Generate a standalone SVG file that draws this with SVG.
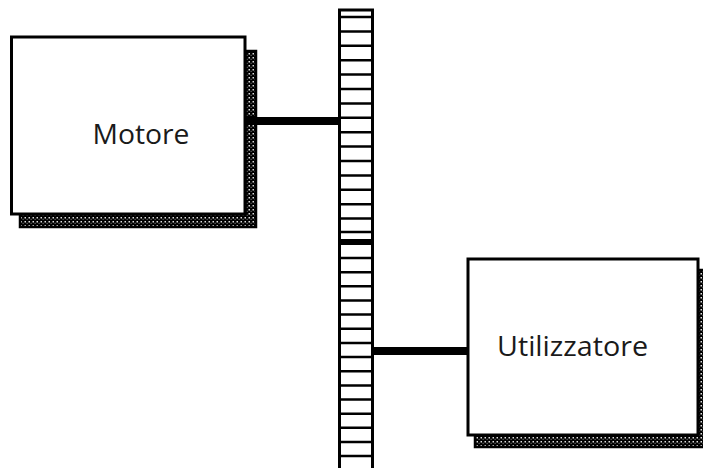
<svg xmlns="http://www.w3.org/2000/svg" width="703" height="468" viewBox="0 0 703 468">
  <style>
    .box { fill: #fff; stroke: #000; stroke-width: 3; }
    .shadow { fill: url(#speckle); stroke: #000; stroke-width: 2.5; }
    .label { font-family: "Open Sans", "Noto Sans", sans-serif; font-size: 27px; fill: #1a1a1a; }
    .shaft { fill: #fff; stroke: #000; stroke-width: 3; }
    .rung { stroke: #000; stroke-width: 2.5; }
    .link { stroke: #000; stroke-width: 8; }
  </style>
  <defs>
    <!-- black band with light speckles used for the box shadows -->
    <pattern id="speckle" width="4" height="4" patternUnits="userSpaceOnUse">
      <rect width="4" height="4" fill="#000"/>
      <rect x="0.5" y="1" width="1.5" height="1.5" fill="#ddd"/>
      <rect x="2.6" y="2.8" width="1" height="1" fill="#999"/>
    </pattern>
  </defs>

  <!-- toothed bar -->
  <g id="rack">
    <rect class="shaft" x="339.5" y="10" width="33" height="470"/>
    <g id="rungs">
      <line class="rung" x1="339" y1="17" x2="373" y2="17"/>
      <line class="rung" x1="339" y1="31.4" x2="373" y2="31.4"/>
      <line class="rung" x1="339" y1="45.8" x2="373" y2="45.8"/>
      <line class="rung" x1="339" y1="60.2" x2="373" y2="60.2"/>
      <line class="rung" x1="339" y1="74.6" x2="373" y2="74.6"/>
      <line class="rung" x1="339" y1="89" x2="373" y2="89"/>
      <line class="rung" x1="339" y1="103.4" x2="373" y2="103.4"/>
      <line class="rung" x1="339" y1="117.8" x2="373" y2="117.8"/>
      <line class="rung" x1="339" y1="132.2" x2="373" y2="132.2"/>
      <line class="rung" x1="339" y1="146.6" x2="373" y2="146.6"/>
      <line class="rung" x1="339" y1="161" x2="373" y2="161"/>
      <line class="rung" x1="339" y1="175.4" x2="373" y2="175.4"/>
      <line class="rung" x1="339" y1="189.8" x2="373" y2="189.8"/>
      <line class="rung" x1="339" y1="204.2" x2="373" y2="204.2"/>
      <line class="rung" x1="339" y1="218.6" x2="373" y2="218.6"/>
      <line class="rung" x1="339" y1="232" x2="373" y2="232"/>
      <rect x="339" y="239" width="34" height="6" fill="#000"/>
      <line class="rung" x1="339" y1="258" x2="373" y2="258"/>
      <line class="rung" x1="339" y1="272.2" x2="373" y2="272.2"/>
      <line class="rung" x1="339" y1="286.3" x2="373" y2="286.3"/>
      <line class="rung" x1="339" y1="300.5" x2="373" y2="300.5"/>
      <line class="rung" x1="339" y1="314.6" x2="373" y2="314.6"/>
      <line class="rung" x1="339" y1="328.8" x2="373" y2="328.8"/>
      <line class="rung" x1="339" y1="342.9" x2="373" y2="342.9"/>
      <line class="rung" x1="339" y1="357.1" x2="373" y2="357.1"/>
      <line class="rung" x1="339" y1="371.2" x2="373" y2="371.2"/>
      <line class="rung" x1="339" y1="385.4" x2="373" y2="385.4"/>
      <line class="rung" x1="339" y1="399.5" x2="373" y2="399.5"/>
      <line class="rung" x1="339" y1="413.7" x2="373" y2="413.7"/>
      <line class="rung" x1="339" y1="427.8" x2="373" y2="427.8"/>
      <line class="rung" x1="339" y1="442" x2="373" y2="442"/>
      <line class="rung" x1="339" y1="456" x2="373" y2="456"/>
    </g>
  </g>

  <g id="motore">
    <path class="shadow" d="M245 51 H256 V227 H20 V214 H245 Z"/>
    <rect class="box" x="11.5" y="37" width="233.5" height="177"/>
    <text class="label" x="141" y="144" text-anchor="middle" textLength="97" lengthAdjust="spacingAndGlyphs">Motore</text>
  </g>

  <g id="utilizzatore">
    <path class="shadow" d="M698 270 H706 V447 H475 V435 H698 Z"/>
    <rect class="box" x="468" y="259" width="230" height="176"/>
    <text class="label" x="497" y="356" textLength="151" lengthAdjust="spacingAndGlyphs">Utilizzatore</text>
  </g>

  <!-- connecting shafts between boxes and the toothed bar, drawn on top of the shadows -->
  <g id="connectors">
    <line class="link" x1="245" y1="121" x2="340" y2="121"/>
    <line class="link" x1="372" y1="351" x2="468" y2="351"/>
  </g>
</svg>
